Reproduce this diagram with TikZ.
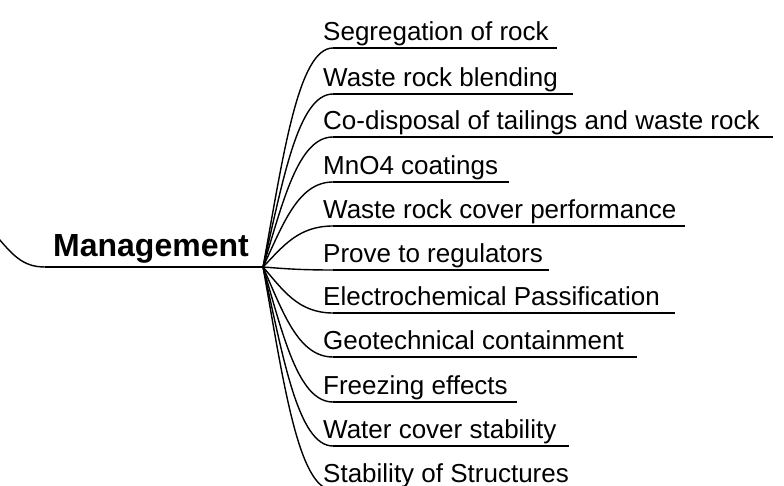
\documentclass[tikz,border=0pt]{standalone}
\usepackage{fontspec}
\setmainfont{Liberation Sans}
\usetikzlibrary{calc}
\begin{document}
\begin{tikzpicture}[x=1pt,y=-1pt,
  curveline/.style={line width=1.4pt},
  underline/.style={line width=2pt},
  branchtext/.style={anchor=base west, inner sep=0pt, font=\fontsize{26}{31}\selectfont},
  roottext/.style={anchor=base west, inner sep=0pt, font=\bfseries\fontsize{32}{38}\selectfont}]
\useasboundingbox (0,0) rectangle (784,486);
\coordinate (hub) at (263,267);
\coordinate (rootstart) at (-10,228);
\coordinate (rootbend) at (45,267);
\node[roottext] (mgmt) at (53,257) {Management};
\draw[curveline] (rootstart) .. controls (12,255) and (22,267) .. (rootbend);
\draw[underline] (rootbend) -- (hub);
\foreach \i/\y/\e/\t in {
  1/48/557/{Segregation of rock},
  2/94/573/{Waste rock blending},
  3/137/773/{Co-disposal of tailings and waste rock},
  4/182/509/{MnO4 coatings},
  5/226/685/{Waste rock cover performance},
  6/270/549/{Prove to regulators},
  7/313/675/{Electrochemical Passification},
  8/357/637/{Geotechnical containment},
  9/402/517/{Freezing effects},
  10/446/569/{Water cover stability},
  11/490/579/{Stability of Structures}} {
  \node[branchtext] (b\i) at (323,\y-7.5) {\t};
  \coordinate (c\i) at (333,\y);
  \coordinate (e\i) at (\e,\y);
  \draw[curveline] (hub) .. controls (283,{(267+\y)/2}) and (298,\y) .. (c\i);
  \draw[underline] (c\i) -- (e\i);
}
\end{tikzpicture}
\end{document}
